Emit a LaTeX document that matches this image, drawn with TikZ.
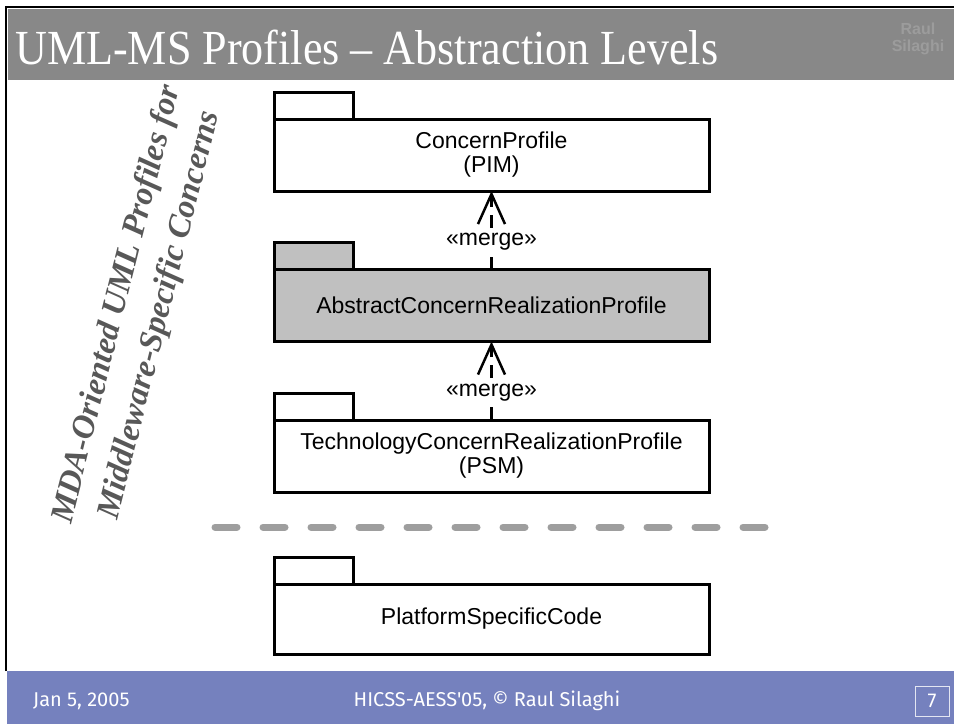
\documentclass[tikz,border=0pt]{standalone}
\usepackage{fontspec}
\usepackage{xcolor}
\setmainfont{Liberation Serif}
\setsansfont{Liberation Sans}
\newfontfamily\footfont{Fira Sans}
\usetikzlibrary{arrows.meta}

\definecolor{titlegray}{RGB}{136,136,136}
\definecolor{logogray}{RGB}{156,156,156}
\definecolor{footblue}{RGB}{117,129,190}
\definecolor{pkggray}{RGB}{192,192,192}
\definecolor{sepgray}{RGB}{158,158,158}
\definecolor{slantgray}{RGB}{88,88,88}

\begin{document}
\begin{tikzpicture}[x=1pt,y=-1pt,
		pkg/.style={draw,line width=3pt,outer sep=0pt,inner sep=0pt,minimum width=435pt,minimum height=72pt,align=center,font=\sffamily\fontsize{23}{24}\selectfont},
		pkgtab/.style={draw,line width=3pt},
		merge/.style={line width=2.5pt,dash pattern=on 13pt off 8pt,-{Straight Barb[length=30pt,width=27pt]}},
		mergelabel/.style={fill=white,inner sep=3pt,font=\sffamily\fontsize{23}{24}\selectfont},
		slanted/.style={rotate=76,align=center,font=\rmfamily\bfseries\itshape\fontsize{33}{44}\selectfont},
		foot/.style={text=white,font=\footfont\fontsize{20}{22}\selectfont}]
	\useasboundingbox (0,0) rectangle (954,724);

	\fill[titlegray] (8,9) rectangle (954,80);
	\fill[footblue] (7,671) rectangle (954,724);
	\draw[line width=2pt] (6,671) -- (6,7) -- (954,7);

	\node[anchor=base west,inner sep=0pt,xscale=0.9,text=white,font=\rmfamily\fontsize{49}{50}\selectfont] (title) at (15,64) {UML-MS Profiles – Abstraction Levels};
	\node[align=center,text=logogray,font=\sffamily\bfseries\fontsize{16}{17}\selectfont] (logo) at (918,39) {Raul\\Silaghi};

	\node[slanted,text=slantgray] (side) at (139,310) {MDA-Oriented UML Profiles for\\Middleware-Specific Concerns};

	\node[pkg] (concern) at (491.5,155) {ConcernProfile\\(PIM)};
	\draw[pkgtab] (concern.north west) rectangle ++(79,-27);

	\node[pkg,fill=pkggray] (abstract) at (491.5,305.5) {AbstractConcernRealizationProfile};
	\draw[pkgtab,fill=pkggray] (abstract.north west) rectangle ++(79,-27);

	\node[pkg] (technology) at (491.5,456) {TechnologyConcernRealizationProfile\\(PSM)};
	\draw[pkgtab] (technology.north west) rectangle ++(79,-27);

	\node[pkg,minimum height=70pt] (platform) at (491.5,619) {PlatformSpecificCode};
	\draw[pkgtab] (platform.north west) rectangle ++(79,-27);

	\draw[merge] (abstract.north) -- node[mergelabel,pos=0.35] {«merge»} (concern.south);
	\draw[merge] (technology.north) -- node[mergelabel,pos=0.35] {«merge»} (abstract.south);

	\draw[sepgray,line width=7pt,line cap=round,dash pattern=on 22pt off 26pt] (215,527) -- (765,527);

	\node[foot,anchor=west,inner sep=0pt] (date) at (33,701) {Jan 5, 2005};
	\node[foot] (event) at (487,701) {HICSS-AESS'05, © Raul Silaghi};
	\node[foot,draw=white!80!footblue,line width=1pt,minimum width=34pt,minimum height=30pt] (page) at (932,701) {7};
\end{tikzpicture}
\end{document}
